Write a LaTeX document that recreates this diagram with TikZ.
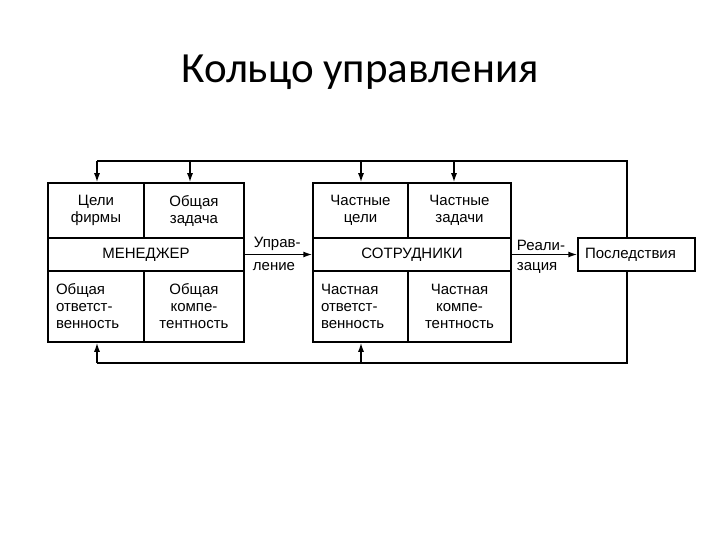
\documentclass[tikz,border=0pt]{standalone}
\usepackage{fontspec}
\setmainfont{Liberation Sans}
\newfontfamily\titlefont{Carlito}
\usetikzlibrary{arrows.meta,positioning}

\begin{document}
\begin{tikzpicture}[
  x=1pt,y=-1pt,
  cell/.style={draw,line width=1.5pt,align=center,inner sep=0pt,font=\fontsize{15}{17}\selectfont},
  lcell/.style={cell,align=left,inner xsep=8pt,text width=#1},
  arrow/.style={-{Latex[length=9pt,width=6pt]},line width=1.5pt},
  bus/.style={line width=1.5pt},
  lbl/.style={inner sep=0pt,font=\fontsize{15}{17}\selectfont}
]
\useasboundingbox (0,0) rectangle (720,540);
\node[font=\titlefont\fontsize{43}{46}\selectfont,anchor=base] (title) at (360,83) {Кольцо управления};

\node[cell,minimum width=96pt,minimum height=55pt] (goals) at (96,210.5) {Цели\\фирмы};
\node[cell,minimum width=100pt,minimum height=55pt] (task) at (194,210.5) {Общая\\задача};
\node[cell,minimum width=196pt,minimum height=33pt] (manager) at (146,254.5) {МЕНЕДЖЕР};
\node[lcell=80pt,minimum height=71pt] (resp) at (96,306.5) {Общая\\ответст-\\венность};
\node[cell,minimum width=100pt,minimum height=71pt] (comp) at (194,306.5) {Общая\\компе-\\тентность};

\node[cell,minimum width=95pt,minimum height=55pt] (pgoals) at (360.5,210.5) {Частные\\цели};
\node[cell,minimum width=103pt,minimum height=55pt] (ptasks) at (459.5,210.5) {Частные\\задачи};
\node[cell,minimum width=198pt,minimum height=33pt] (staff) at (412,254.5) {СОТРУДНИКИ};
\node[lcell=79pt,minimum height=71pt] (presp) at (360.5,306.5) {Частная\\ответст-\\венность};
\node[cell,minimum width=103pt,minimum height=71pt] (pcomp) at (459.5,306.5) {Частная\\компе-\\тентность};

\node[lcell=103pt,inner xsep=7pt,minimum height=33pt] (cons) at (636.5,254.5) {Последствия};

\draw[arrow] (manager) -- (staff);
\draw[arrow] (staff) -- (cons);
\node[lbl,above right=4pt and 9pt of manager.east] (upr1) {Управ-};
\node[lbl,below right=8pt and 8pt of manager.east] (upr2) {ление};
\node[lbl,above right=4pt and 5pt of staff.east] (real1) {Реали-};
\node[lbl,below right=8pt and 5pt of staff.east] (real2) {зация};

\coordinate (tl) at (97,161);
\coordinate (tr) at (627,161);
\coordinate (bl) at (97,363);
\coordinate (br) at (627,363);
\coordinate (t2) at (190,161);
\coordinate (t3) at (361,161);
\coordinate (t4) at (454,161);
\coordinate (b3) at (361,363);

\draw[bus] (cons.north -| tr) -- (tr) -- (tl);
\draw[bus] (cons.south -| br) -- (br) -- (bl);
\draw[arrow] (tl) -- (tl |- goals.north);
\draw[arrow] (t2) -- (t2 |- task.north);
\draw[arrow] (t3) -- (t3 |- pgoals.north);
\draw[arrow] (t4) -- (t4 |- ptasks.north);
\draw[arrow] (bl) -- (bl |- resp.south);
\draw[arrow] (b3) -- (b3 |- presp.south);
\end{tikzpicture}
\end{document}
